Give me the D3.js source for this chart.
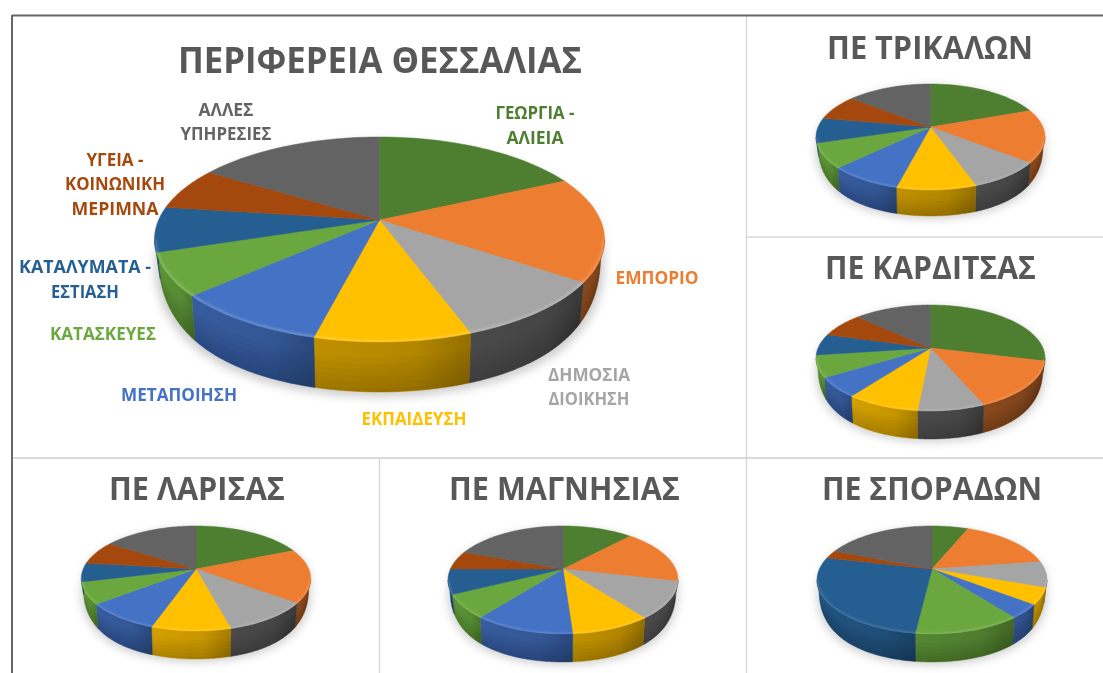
<!DOCTYPE html>
<html><head><meta charset="utf-8">
<script src="https://cdnjs.cloudflare.com/ajax/libs/d3/7.8.5/d3.min.js"></script>
<style>html,body{margin:0;padding:0;background:#fff;overflow:hidden}svg{display:block}text{font-family:"Open Sans","Noto Sans",sans-serif;font-weight:700}</style>
</head><body><svg id="c" width="1103" height="673"></svg>
<script>
const sectors = ["ΓΕΩΡΓΙΑ - ΑΛΙΕΙΑ","ΕΜΠΟΡΙΟ","ΔΗΜΟΣΙΑ ΔΙΟΙΚΗΣΗ","ΕΚΠΑΙΔΕΥΣΗ","ΜΕΤΑΠΟΙΗΣΗ","ΚΑΤΑΣΚΕΥΕΣ","ΚΑΤΑΛΥΜΑΤΑ - ΕΣΤΙΑΣΗ","ΥΓΕΙΑ - ΚΟΙΝΩΝΙΚΗ ΜΕΡΙΜΝΑ","ΑΛΛΕΣ ΥΠΗΡΕΣΙΕΣ"];
const colors = ["#4e7e30","#ed7d31","#a5a5a5","#ffc000","#4472c4","#6aa83f","#255e91","#a5480e","#636363"];
const thessaly = [18.0,16.6,9.9,9.4,9.4,6.7,7.1,6.8,16.1];
const trikala = [19.5,16.2,8.9,9.4,8.7,7.5,7.6,7.9,14.3];
const karditsa = [28.9,14.7,7.9,8.7,6.0,6.7,6.5,7.6,13.0];
const larisa = [18.7,16.6,10.6,9.4,9.1,6.7,5.8,7.3,15.8];
const magnisia = [12.0,16.6,11.0,9.3,11.7,7.0,7.4,5.6,19.4];
const sporades = [6.2,16.5,7.8,4.9,4.1,12.4,26.7,2.5,18.9];

const svg = d3.select("#c");
const defs = svg.append("defs");
defs.append("filter").attr("id","shadow").attr("x","-20%").attr("y","-40%").attr("width","140%").attr("height","180%")
  .append("feGaussianBlur").attr("stdDeviation",5);
defs.append("filter").attr("id","soft").attr("x","-10%").attr("y","-10%").attr("width","120%").attr("height","120%")
  .append("feGaussianBlur").attr("stdDeviation",1.2);
defs.append("filter").attr("id","textsoft").attr("x","-5%").attr("y","-20%").attr("width","110%").attr("height","140%")
  .append("feGaussianBlur").attr("stdDeviation",0.35);

const rule = (x1,y1,x2,y2,c,w)=>svg.append("line").attr("x1",x1).attr("y1",y1).attr("x2",x2).attr("y2",y2).attr("stroke",c).attr("stroke-width",w);
rule(746.5,16,746.5,673,"#d9d9d9",1.5);
rule(12,458,1103,458,"#d9d9d9",2);
rule(746,237,1103,237,"#d9d9d9",1.5);
rule(379.5,458,379.5,673,"#d9d9d9",1.5);
rule(12,15.5,1103,15.5,"#666",2);
rule(12,15,12,673,"#666",2);

let uid = 0;
function drawPie(values, g){
  const up=g.up, down=g.down;
  const k = -(down-up)/(down+up);
  const a = down*(1+k);
  const b = g.rx*Math.sqrt(1-k*k);
  const xS = d3.scaleLinear().domain([-1,1]).range([g.cx-b,g.cx+b]);
  const yS = d3.scaleLinear().domain([-1,1]).range([g.cy-a,g.cy+a]);
  const proj = (t,r=1)=>{
    const u=r*Math.sin(t), v=-r*Math.cos(t), w=1+k*v;
    return [xS(u/w), yS(v/w), v];
  };
  const vT=-k;
  const low = (t,s=1)=>{
    const p=proj(t);
    const q=Math.max(0,(p[2]-vT)/(1-vT));
    const f=0.36+0.64*(1-(1-q)*(1-q));
    return [g.cx+(p[0]-g.cx)*(1-0.018*s), p[1]+s*g.depth*f];
  };
  const line=d3.line();
  const samples=(t0,t1)=>d3.range(0,41).map(i=>t0+(t1-t0)*i/40);
  const arcs=d3.pie().sort(null).startAngle(0).endAngle(2*Math.PI)(values);
  const tR=Math.acos(k), tL=2*Math.PI-tR;
  const root=svg.append("g");
  const front=samples(tR,tL);
  root.append("path").attr("filter","url(#shadow)").attr("fill","rgba(0,0,0,0.2)")
    .attr("d",line(samples(0,2*Math.PI).map(t=>{const p=proj(t);const q=low(t);return [p[0],(p[2]>0?q[1]:p[1])+g.depth*0.1];}))+"Z");
  const wallOutline=(s0,s1,t0,t1)=>{
    const ts=samples(t0,t1);
    return line(ts.map(t=>low(t,s0)).concat(ts.slice().reverse().map(t=>low(t,s1))))+"Z";
  };
  const wallMul=[0.78,0.62,0.48,0.8,0.78,0.85,0.85,0.72,0.55];
  arcs.forEach((d,i)=>{
    const t0=Math.max(d.startAngle,tR), t1=Math.min(d.endAngle,tL);
    if(t1<=t0) return;
    const id="w"+(uid++);
    const base=d3.rgb(colors[i]);
    const m=wallMul[i];
    const mid=(t0+t1)/2;
    const shade=Math.sin(mid)>0?0.9:1;
    const col=f=>d3.rgb(base.r*m*shade*f,base.g*m*shade*f,base.b*m*shade*f);
    const lg=defs.append("linearGradient").attr("id",id).attr("x1",0).attr("x2",1).attr("y1",0).attr("y2",0);
    lg.append("stop").attr("offset",0).attr("stop-color",col(1.04));
    lg.append("stop").attr("offset",0.65).attr("stop-color",col(0.97));
    lg.append("stop").attr("offset",1).attr("stop-color",col(0.8));
    root.append("path").attr("d",wallOutline(0,1,t0,t1)).attr("fill",`url(#${id})`).attr("stroke",`url(#${id})`).attr("stroke-width",0.5);
  });
  d3.range(1,7).forEach(n=>{
    root.append("path").attr("d",wallOutline(0.2+n*0.12,1,tR,tL)).attr("fill","rgba(0,0,0,0.028)");
  });
  arcs.forEach((d,i)=>{
    const ts=samples(d.startAngle,d.endAngle);
    const c=proj(0,0);
    root.append("path").attr("d",line([[c[0],c[1]]].concat(ts.map(t=>proj(t).slice(0,2))))+"Z")
      .attr("fill",colors[i]).attr("stroke",colors[i]).attr("stroke-width",0.5).attr("stroke-linejoin","round");
  });
  const cid="r"+(uid++);
  defs.append("clipPath").attr("id",cid).append("path")
    .attr("d",line(samples(0,2*Math.PI).map(t=>proj(t).slice(0,2)))+"Z");
  root.append("g").attr("clip-path",`url(#${cid})`).append("path")
    .attr("d",line(front.map(t=>proj(t).slice(0,2)))).attr("fill","none").attr("filter","url(#soft)")
    .attr("stroke","rgba(255,255,255,0.2)").attr("stroke-width",g.depth*0.08);
}

drawPie(thessaly,{cx:379.5,cy:220,rx:225,up:83,down:122,depth:50});
drawPie(trikala,{cx:930.5,cy:127,rx:114.5,up:43,down:63,depth:26});
drawPie(karditsa,{cx:930.5,cy:348,rx:114.5,up:43,down:63,depth:28});
drawPie(larisa,{cx:196,cy:569,rx:114.7,up:43,down:62,depth:28});
drawPie(magnisia,{cx:563,cy:569,rx:115,up:43,down:65,depth:28});
drawPie(sporades,{cx:932,cy:569,rx:115,up:43,down:65,depth:28});

const tg=svg.append("g").attr("filter","url(#textsoft)");
function txt(s,cx,base,size,w,fill){
  tg.append("text").attr("x",cx).attr("y",base).attr("text-anchor","middle").attr("font-size",size)
    .attr("fill",fill).attr("textLength",w).attr("lengthAdjust","spacingAndGlyphs").text(s);
}
const titleColor="#595959";
txt("ΠΕΡΙΦΕΡΕΙΑ ΘΕΣΣΑΛΙΑΣ",380,73,36,404,titleColor);
txt("ΠΕ ΤΡΙΚΑΛΩΝ",930,59,32,206,titleColor);
txt("ΠΕ ΚΑΡΔΙΤΣΑΣ",930.5,279,32,211,titleColor);
txt("ΠΕ ΛΑΡΙΣΑΣ",197,500,32,176,titleColor);
txt("ΠΕ ΜΑΓΝΗΣΙΑΣ",564.5,500,32,231,titleColor);
txt("ΠΕ ΣΠΟΡΑΔΩΝ",932,500,32,220,titleColor);

txt("ΓΕΩΡΓΙΑ -",535,119,17,79,colors[0]);
txt("ΑΛΙΕΙΑ",535,144,17,57,colors[0]);
txt("ΕΜΠΟΡΙΟ",657,284,17,83,colors[1]);
txt("ΔΗΜΟΣΙΑ",589,381,17,82,colors[2]);
txt("ΔΙΟΙΚΗΣΗ",589,405,17,81,colors[2]);
txt("ΕΚΠΑΙΔΕΥΣΗ",414,425,17,105,colors[3]);
txt("ΜΕΤΑΠΟΙΗΣΗ",179,401,17,116,colors[4]);
txt("ΚΑΤΑΣΚΕΥΕΣ",103,340,17,106,colors[5]);
txt("ΚΑΤΑΛΥΜΑΤΑ -",85,273,17,132,colors[6]);
txt("ΕΣΤΙΑΣΗ",85,298,17,68,colors[6]);
txt("ΥΓΕΙΑ -",115,166,17,57,colors[7]);
txt("ΚΟΙΝΩΝΙΚΗ",115,190,17,100,colors[7]);
txt("ΜΕΡΙΜΝΑ",115,215,17,87,colors[7]);
txt("ΑΛΛΕΣ",226,116,17,55,colors[8]);
txt("ΥΠΗΡΕΣΙΕΣ",226,140,17,91,colors[8]);
</script></body></html>
